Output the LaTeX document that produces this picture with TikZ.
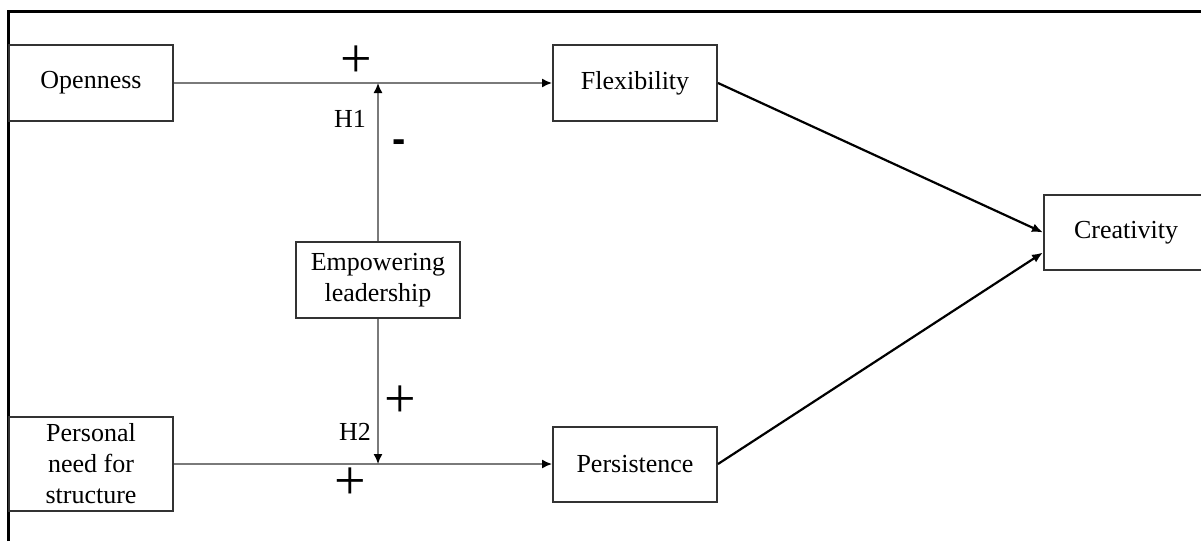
\documentclass[tikz,border=0pt]{standalone}
\usepackage{fontspec}
\setmainfont{Liberation Serif}
\newfontfamily\dashfont{Liberation Sans}
\usetikzlibrary{arrows.meta}
\definecolor{boxline}{HTML}{333333}
\definecolor{thinline}{HTML}{7A7A7A}
\begin{document}
\begin{tikzpicture}[x=1pt,y=-1pt,
  box/.style={draw=boxline,line width=2pt,fill=white,minimum width=164pt,inner sep=0pt,align=center,font=\fontsize{26}{31}\selectfont},
  thin/.style={draw=thinline,line width=1.5pt},
  thintip/.style={thin,-{Latex[length=10pt,width=9pt,color=black]}},
  thick/.style={draw=black,line width=2.2pt,-{Latex[length=11pt,width=9pt]}},
  lbl/.style={inner sep=0pt,font=\fontsize{26}{31}\selectfont},
  sign/.style={inner sep=0pt,font=\fontsize{56}{56}\selectfont}]
\useasboundingbox (0,0) rectangle (1201,541);
\draw[line width=3pt] (8,541) -- (8,11) -- (1210,11);
\node[box,minimum height=76pt] (open) at (91,83) {Openness};
\node[box,minimum height=76pt] (flex) at (635,83) {Flexibility};
\node[box,minimum height=76pt] (emp) at (378,280) {Empowering\\leadership};
\node[box,minimum height=94pt] (pns) at (91,464) {Personal\\need for\\structure};
\node[box,minimum height=75pt] (pers) at (635,464) {Persistence};
\node[box,minimum height=75pt] (creat) at (1126,232.5) {Creativity};
\coordinate (j1) at (emp.north |- open.east);
\coordinate (j2) at (emp.south |- pns.east);
\draw[thintip] (open.east) -- (flex.west);
\draw[thintip] (pns.east) -- (pers.west);
\draw[thintip] (emp.north) -- (j1);
\draw[thintip] (emp.south) -- (j2);
\draw[thick] (flex.east) -- (creat.west);
\draw[thick] (pers.east) -- ([yshift=-20pt]creat.west);
\node[sign] (p1) at (356,62) {+};
\node[lbl] (h1) at (350,119) {H1};
\node[inner sep=0pt,font=\dashfont\bfseries\fontsize{40}{40}\selectfont] (m1) at (399,146) {-};
\node[sign] (p2) at (400,402) {+};
\node[lbl] (h2) at (355,432) {H2};
\node[sign] (p3) at (350,484) {+};
\end{tikzpicture}
\end{document}
